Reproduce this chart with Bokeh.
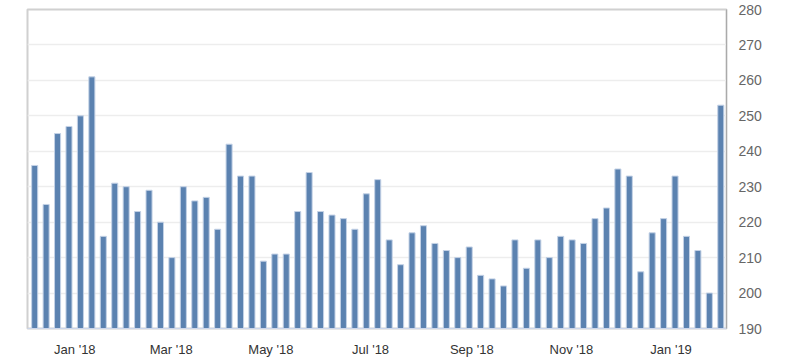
import datetime as dt
import pandas as pd
from bokeh.plotting import figure
from bokeh.models import ColumnDataSource, Range1d, LinearAxis, FixedTicker, DatetimeAxis
from bokeh.embed import file_html
from bokeh.resources import INLINE

# weekly values (Thursdays), first week 2017-12-07
first_week = "2017-12-07"
values = [236, 225, 245, 247, 250, 261, 216, 231, 230, 223, 229, 220, 210, 230, 226, 227,
          218, 242, 233, 233, 209, 211, 211, 223, 234, 223, 222, 221, 218, 228, 232, 215,
          208, 217, 219, 214, 212, 210, 213, 205, 204, 202, 215, 207, 215, 210, 216, 215,
          214, 221, 224, 235, 233, 206, 217, 221, 233, 216, 212, 200, 253]
tick_dates = ["2018-01-01", "2018-03-01", "2018-05-01", "2018-07-01", "2018-09-01",
              "2018-11-01", "2019-01-01"]
tick_labels = ["Jan '18", "Mar '18", "May '18", "Jul '18", "Sep '18", "Nov '18", "Jan '19"]
y_ticks = [190, 200, 210, 220, 230, 240, 250, 260, 270, 280]

dates = pd.date_range(first_week, periods=len(values), freq="7D") + pd.Timedelta(hours=10)
src = ColumnDataSource(dict(x=dates, top=values))

DAY = 86400000
x_start = dates[0] - pd.Timedelta(days=4.4)
x_end = x_start + pd.Timedelta(days=427.9)

p = figure(width=800, height=364, output_backend="svg", toolbar_location=None,
           x_axis_type=None, y_axis_location=None,
           x_range=Range1d(x_start, x_end), y_range=Range1d(190, 280),
           min_border_left=27, min_border_right=74, min_border_top=9, min_border_bottom=36)
p.background_fill_color = "white"
p.border_fill_color = "white"
p.outline_line_color = "#d0d0d0"
p.outline_line_width = 2

p.vbar(x="x", top="top", bottom=190, width=3.7 * DAY, source=src,
       fill_color="#5b82b0", line_color="#c4d2e6", line_width=1)

xt = [pd.Timestamp(d).value // 10**6 for d in tick_dates]
xaxis = DatetimeAxis(ticker=FixedTicker(ticks=xt))
xaxis.major_label_overrides = {t: l for t, l in zip(xt, tick_labels)}
xaxis.axis_line_color = "#ccd6eb"
xaxis.axis_line_width = 1
xaxis.major_tick_line_color = None
xaxis.minor_tick_line_color = None
xaxis.major_label_standoff = 7
xaxis.major_label_text_font = "Liberation Sans"
xaxis.major_label_text_font_size = "13px"
xaxis.major_label_text_color = "#333333"
p.add_layout(xaxis, "below")

yaxis = LinearAxis(ticker=FixedTicker(ticks=y_ticks))
yaxis.axis_line_color = "#aaaaaa"
yaxis.axis_line_width = 1
yaxis.major_tick_line_color = None
yaxis.minor_tick_line_color = None
yaxis.major_label_standoff = 6
yaxis.major_label_text_font = "Liberation Sans"
yaxis.major_label_text_font_size = "14px"
yaxis.major_label_text_color = "#666666"
p.add_layout(yaxis, "right")

p.xgrid.ticker = FixedTicker(ticks=xt)
p.ygrid.ticker = FixedTicker(ticks=y_ticks)
p.xgrid.grid_line_color = "#efefef"
p.ygrid.grid_line_color = "#ededed"
p.xgrid.grid_line_width = 1.5
p.ygrid.grid_line_width = 1.5

open("out.html", "w").write(file_html(p, INLINE))
